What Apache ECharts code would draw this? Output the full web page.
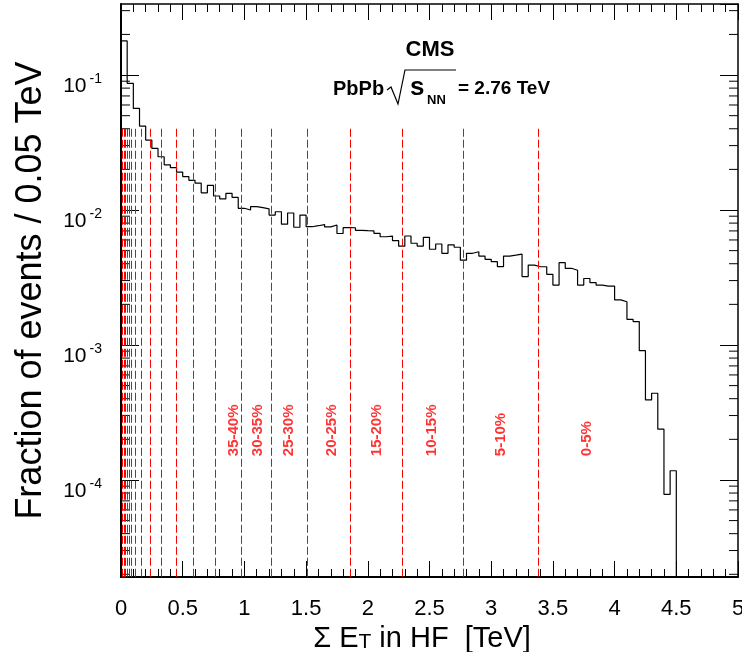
<!DOCTYPE html>
<html>
<head>
<meta charset="utf-8">
<title>CMS PbPb sum ET in HF</title>
<script src="https://cdn.jsdelivr.net/npm/echarts@6.0.0/dist/echarts.min.js"></script>
<style>
    html, body { margin: 0; padding: 0; background: #fff; }
    #chart { width: 742px; height: 652px; }
</style>
</head>
<body>
<div id="chart"></div>
<script>
// 直方图的 bin 宽度 (TeV)
const binWidth = 0.05;
// 每个 bin 的事件比例，从 0 TeV 开始
const fraction = [
    0.179, 0.0868, 0.0566, 0.0419, 0.0330, 0.0286, 0.0248, 0.0216, 0.0206, 0.0191,
    0.0177, 0.0166, 0.0158, 0.0134, 0.0152, 0.0127, 0.0121, 0.0133, 0.0124, 0.0103,
    0.0100, 0.0106, 0.0104, 0.0102, 0.00918, 0.00971, 0.00785, 0.00950, 0.00745, 0.00918,
    0.00752, 0.00765, 0.00780, 0.00750, 0.00774, 0.00670, 0.00740, 0.00739, 0.00707, 0.00703,
    0.00700, 0.00671, 0.00634, 0.00641, 0.00594, 0.00540, 0.00642, 0.00567, 0.00541, 0.00628,
    0.00512, 0.00560, 0.00478, 0.00552, 0.00530, 0.00425, 0.00478, 0.00491, 0.00456, 0.00431,
    0.00414, 0.00381, 0.00456, 0.00463, 0.00471, 0.00321, 0.00391, 0.00380, 0.00380, 0.00334,
    0.00278, 0.00407, 0.00370, 0.00358, 0.00278, 0.00311, 0.00290, 0.00278, 0.00273, 0.00273,
    0.00216, 0.00209, 0.00155, 0.00149, 0.000908, 0.000392, 0.000439, 0.000238, 0.0000783, 0.000117
];
// 中心度分界线 (TeV)
const centralityEdges = [
    0.010, 0.023, 0.036, 0.050, 0.063, 0.083, 0.112, 0.166, 0.233, 0.326,
    0.444, 0.588, 0.760, 0.974, 1.217, 1.507, 1.857, 2.276, 2.770, 3.381
];
// 分界线的上端
const centralityTop = 0.04;
// 中心度标签
const centralityLabels = ['35-40%', '30-35%', '25-30%', '20-25%', '15-20%', '10-15%', '5-10%', '0-5%'];
const centralityLabelX = [0.916, 1.106, 1.357, 1.706, 2.070, 2.516, 3.075, 3.772];
const centralityLabelY = 1.5e-4;
// 坐标轴范围
const xMin = 0;
const xMax = 5;
const xStep = 0.5;
const yMin = 1.91e-5;
const yMax = 0.336;
// y 轴显示标签的十进位
const yDecades = [1e-4, 1e-3, 1e-2, 1e-1];

const font = 'Liberation Sans, Arial, Helvetica, sans-serif';

// 直方图轮廓：每个 bin 左边一个点，最后补上右边界并落到底部
const histData = fraction.map((v, i) => [i * binWidth, v]);
const lastEdge = fraction.length * binWidth;
histData.push([lastEdge, fraction[fraction.length - 1]]);
histData.push([lastEdge, yMin]);

// 红色虚线
const edgeLines = centralityEdges.map(x => [
    { coord: [x, centralityTop] },
    { coord: [x, yMin] }
]);

// 中心度标签数据
const labelData = centralityLabels.map((name, i) => ({
    name: name,
    value: [centralityLabelX[i], centralityLabelY]
}));

// 对数轴的小刻度 2..9 x 10^n
const minorTicks = [];
for (let e = -5; e <= 0; e++) {
    for (let k = 2; k <= 9; k++) {
        const v = k * Math.pow(10, e);
        if (v > yMin && v < yMax) minorTicks.push([0, v]);
    }
}

function decadeLabel(v) {
    const lg = Math.log10(v);
    const e = Math.round(lg);
    if (Math.abs(lg - e) > 1e-6) return '';
    if (!yDecades.some(d => Math.round(Math.log10(d)) === e)) return '';
    return '{b|10}{e|' + e + '}';
}

const chart = echarts.init(document.getElementById('chart'), null, { renderer: 'canvas' });

const xAxisBase = {
    type: 'value',
    min: xMin,
    max: xMax,
    interval: xStep,
    splitLine: { show: false },
    axisTick: { show: true, inside: true, length: 16, lineStyle: { color: '#000', width: 1 } },
    minorTick: { show: true, splitNumber: 5, length: 8, lineStyle: { color: '#000', width: 1 } }
};

const yAxisBase = {
    type: 'log',
    logBase: 10,
    min: yMin,
    max: yMax,
    splitLine: { show: false },
    axisTick: { show: true, inside: true, length: 18, lineStyle: { color: '#000', width: 1 } }
};

const option = {
    backgroundColor: '#fff',
    animation: false,
    textStyle: { fontFamily: font },
    grid: { left: 121, right: 4, top: 4, bottom: 75, containLabel: false, outerBoundsMode: 'none' },
    xAxis: [
        Object.assign({}, xAxisBase, {
            position: 'bottom',
            axisLine: { show: true, onZero: false, lineStyle: { color: '#000', width: 2 } },
            axisLabel: {
                show: true, interval: 0, margin: 21,
                color: '#000', fontSize: 22, fontFamily: font
            },
            name: 'Σ E{t|T} in HF  [TeV]',
            nameLocation: 'middle',
            nameGap: 39,
            nameTextStyle: {
                color: '#000', fontSize: 29, fontFamily: font,
                padding: [0, 15, 0, 0],
                rich: {
                    t: { fontSize: 21, fontFamily: font, color: '#000', verticalAlign: 'bottom', padding: [0, 0, 1, 0] }
                }
            }
        }),
        Object.assign({}, xAxisBase, {
            position: 'top',
            axisLine: { show: true, onZero: false, lineStyle: { color: '#000', width: 1.5 } },
            axisLabel: { show: false }
        })
    ],
    yAxis: [
        Object.assign({}, yAxisBase, {
            position: 'left',
            axisLine: { show: true, onZero: false, lineStyle: { color: '#000', width: 2 } },
            axisLabel: {
                show: true,
                showMinLabel: false,
                showMaxLabel: false,
                margin: 19,
                color: '#000',
                formatter: decadeLabel,
                rich: {
                    b: { fontSize: 21, fontFamily: font, color: '#000', padding: [22, 0, 0, 0] },
                    e: { fontSize: 14, fontFamily: font, color: '#000', padding: [8, 0, 0, 3] }
                }
            },
            name: 'Fraction of events / 0.05 TeV',
            nameLocation: 'middle',
            nameGap: 72,
            nameTextStyle: { color: '#000', fontSize: 36, fontFamily: font }
        }),
        Object.assign({}, yAxisBase, {
            position: 'right',
            axisLine: { show: true, onZero: false, lineStyle: { color: '#000', width: 1.5 } },
            axisLabel: { show: false }
        })
    ],
    series: [
        {
            // 直方图
            name: 'hist',
            type: 'line',
            step: 'end',
            xAxisIndex: 0,
            yAxisIndex: 0,
            data: histData,
            symbol: 'none',
            clip: true,
            lineStyle: { color: '#000', width: 1.2 },
            z: 3,
            markLine: {
                silent: true,
                symbol: ['none', 'none'],
                label: { show: false },
                lineStyle: { color: '#ff0000', width: 1, type: [8, 3] },
                data: edgeLines
            }
        },
        {
            // 中心度标签
            name: 'labels',
            type: 'scatter',
            xAxisIndex: 0,
            yAxisIndex: 0,
            symbolSize: 0,
            data: labelData,
            silent: true,
            label: {
                show: true,
                formatter: '{b}',
                position: [0, 0],
                rotate: 90,
                align: 'left',
                verticalAlign: 'middle',
                color: '#ff0000',
                fontWeight: 'bold',
                fontSize: 15,
                fontFamily: font
            }
        },
        {
            // y 轴小刻度 (左右两侧)
            name: 'minorTicks',
            type: 'custom',
            xAxisIndex: 0,
            yAxisIndex: 0,
            data: minorTicks,
            silent: true,
            renderItem: function (params, api) {
                const y = api.coord([0, api.value(1)])[1];
                const cs = params.coordSys;
                const st = { stroke: '#000', lineWidth: 1 };
                return {
                    type: 'group',
                    children: [
                        { type: 'line', shape: { x1: cs.x, y1: y, x2: cs.x + 9, y2: y }, style: st },
                        { type: 'line', shape: { x1: cs.x + cs.width - 9, y1: y, x2: cs.x + cs.width, y2: y }, style: st }
                    ]
                };
            }
        }
    ],
    graphic: [
        {
            type: 'text', x: 430, y: 50,
            style: { text: 'CMS', align: 'center', verticalAlign: 'middle',
                fontSize: 22, fontWeight: 'bold', fontFamily: font, fill: '#000' }
        },
        {
            type: 'text', x: 333, y: 89,
            style: { text: 'PbPb', verticalAlign: 'middle',
                fontSize: 20, fontWeight: 'bold', fontFamily: font, fill: '#000' }
        },
        {
            // 根号
            type: 'polyline',
            shape: { points: [[387, 90], [391, 87], [398, 104], [405, 70], [456, 70]] },
            style: { stroke: '#000', lineWidth: 1.2, fill: null }
        },
        {
            type: 'text', x: 410, y: 88,
            style: { text: 's', verticalAlign: 'middle',
                fontSize: 26, fontWeight: 'bold', fontFamily: font, fill: '#000' }
        },
        {
            type: 'text', x: 427, y: 100,
            style: { text: 'NN', verticalAlign: 'middle',
                fontSize: 13, fontWeight: 'bold', fontFamily: font, fill: '#000' }
        },
        {
            type: 'text', x: 458, y: 89,
            style: { text: '= 2.76 TeV', verticalAlign: 'middle',
                fontSize: 19, fontWeight: 'bold', fontFamily: font, fill: '#000' }
        }
    ]
};

chart.setOption(option);
</script>
</body>
</html>
